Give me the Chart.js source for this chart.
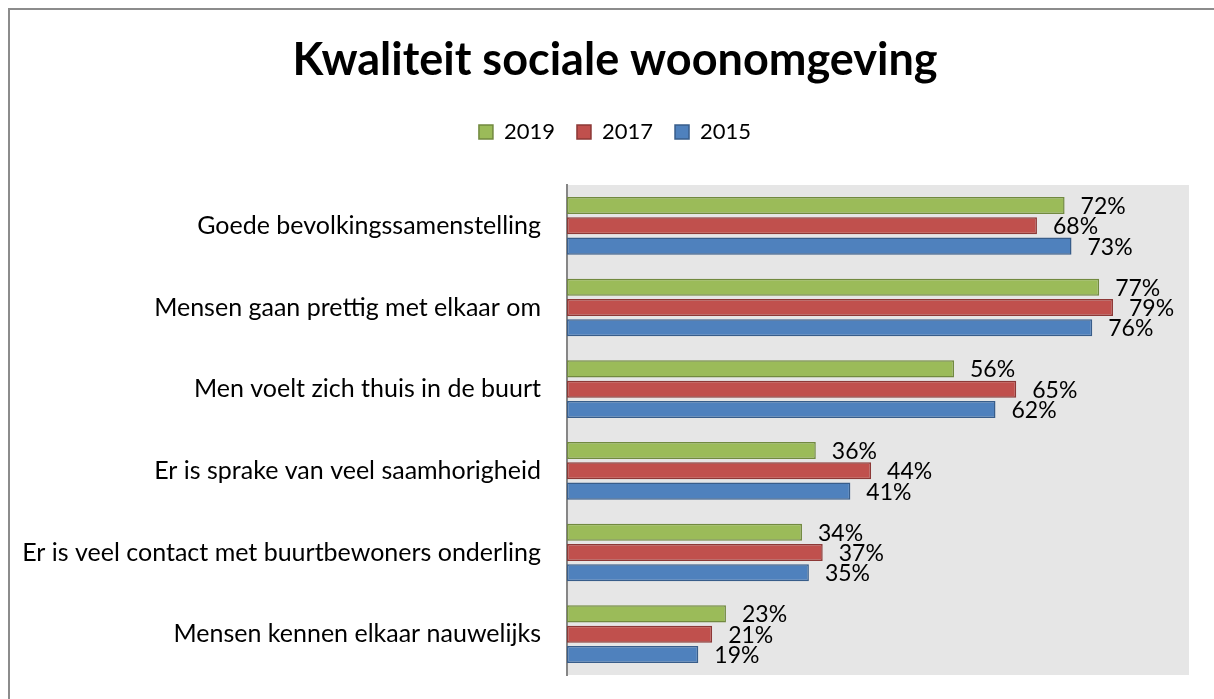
<!DOCTYPE html>
<html>
<head>
<meta charset="utf-8">
<title>Kwaliteit sociale woonomgeving</title>
<script src="https://cdn.jsdelivr.net/npm/chart.js@4/dist/chart.umd.min.js"></script>
<style>
    html, body { margin: 0; padding: 0; background: #fff; overflow: hidden; }
    #frame {
        position: absolute; left: 8px; top: 8px; width: 1300px; height: 800px;
        border: 2px solid #8c8c8c; box-sizing: border-box;
    }
    #chart { position: absolute; left: 0; top: 0; }
</style>
</head>
<body>
<div id="frame"></div>
<canvas id="chart" width="1214" height="699"></canvas>
<script>
// Data
const categories = [
    'Goede bevolkingssamenstelling',
    'Mensen gaan prettig met elkaar om',
    'Men voelt zich thuis in de buurt',
    'Er is sprake van veel saamhorigheid',
    'Er is veel contact met buurtbewoners onderling',
    'Mensen kennen elkaar nauwelijks'
];
const seriesNames = ['2019', '2017', '2015'];
const values2019 = [72, 77, 56, 36, 34, 23];
const values2017 = [68, 79, 65, 44, 37, 21];
const values2015 = [73, 76, 62, 41, 35, 19];
const axisMin = 0;
const axisMax = 90;

const FONT = 'Lato, "Open Sans", sans-serif';

// Excel-ish palette
const fills = ['#9bbb59', '#c0504d', '#4f81bd'];
const borders = ['#71893f', '#8c3836', '#385d8a'];

// grey plot background
const plotBackground = {
    id: 'plotBackground',
    beforeDraw(chart) {
        const { ctx, chartArea: a } = chart;
        ctx.save();
        ctx.fillStyle = '#e6e6e6';
        ctx.fillRect(a.left, a.top, a.right - a.left, a.bottom - a.top);
        ctx.restore();
    }
};

// value labels to the right of each bar
const valueLabels = {
    id: 'valueLabels',
    afterDatasetsDraw(chart) {
        const ctx = chart.ctx;
        ctx.save();
        ctx.font = '23px ' + FONT;
        ctx.fillStyle = '#000';
        ctx.textAlign = 'left';
        ctx.textBaseline = 'middle';
        chart.data.datasets.forEach((ds, i) => {
            chart.getDatasetMeta(i).data.forEach((bar, j) => {
                ctx.fillText(ds.data[j] + '%', bar.x + 16, bar.y + 1);
            });
        });
        ctx.restore();
    }
};

// fixed legend height so the plot starts where it does in the reference
const legendHeight = {
    id: 'legendHeight',
    beforeInit(chart) {
        const fit = chart.legend.fit;
        chart.legend.fit = function () {
            fit.bind(chart.legend)();
            this.height = 86;
        };
    }
};

const allValues = [values2019, values2017, values2015];

new Chart(document.getElementById('chart'), {
    type: 'bar',
    data: {
        labels: categories,
        datasets: seriesNames.map((name, i) => ({
            label: name,
            data: allValues[i],
            backgroundColor: fills[i],
            borderColor: borders[i],
            borderWidth: 1.5,
            borderSkipped: false,
            categoryPercentage: 0.746,
            barPercentage: 0.84
        }))
    },
    options: {
        indexAxis: 'y',
        responsive: false,
        animation: false,
        devicePixelRatio: 1,
        layout: { padding: { left: 16, right: 0, top: 0, bottom: 24 } },
        font: { family: FONT },
        scales: {
            x: {
                display: false,
                min: axisMin,
                max: axisMax
            },
            y: {
                grid: { display: false, drawTicks: false },
                border: { display: true, color: '#868686', width: 2 },
                ticks: {
                    color: '#000',
                    padding: 26,
                    font: { family: FONT, size: 25 }
                },
                afterFit(scale) {
                    scale.width = 551;
                    // labels sit mid-category, no need for extra room top/bottom
                    scale.paddingTop = 0;
                    scale.paddingBottom = 0;
                }
            },
            // empty spacer on the right so the plot ends where the reference does
            yRight: {
                type: 'category',
                position: 'right',
                grid: { display: false, drawTicks: false },
                border: { display: false },
                ticks: { display: false },
                afterFit(scale) {
                    scale.width = 25;
                    scale.paddingTop = 0;
                    scale.paddingBottom = 0;
                }
            }
        },
        plugins: {
            title: {
                display: true,
                text: 'Kwaliteit sociale woonomgeving',
                color: '#000',
                font: { family: FONT, size: 45, weight: 'bold' },
                padding: { top: 33, bottom: 12 }
            },
            legend: {
                display: true,
                labels: {
                    color: '#000',
                    boxWidth: 14,
                    boxHeight: 14,
                    padding: 22,
                    font: { family: FONT, size: 22 }
                }
            },
            tooltip: { enabled: false }
        }
    },
    plugins: [plotBackground, valueLabels, legendHeight]
});
</script>
</body>
</html>
